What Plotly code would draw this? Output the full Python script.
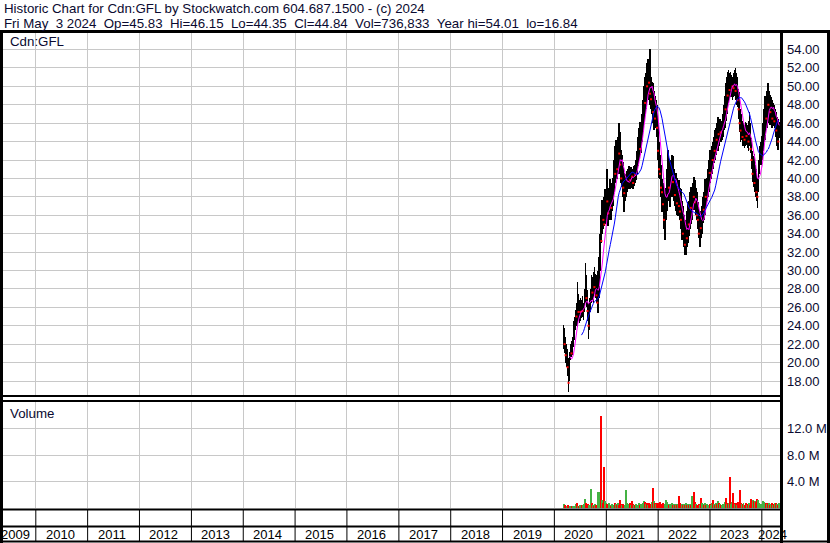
import pandas as pd
import plotly.graph_objects as go

# ---------------- data (weekly) ----------------
week_ending = pd.date_range("2020-03-06", "2024-05-03", freq="W-FRI")

high = [24.1, 23.8, 22.8, 22.0, 21.5, 20.5, 21.2, 22.0, 22.3, 22.8,
        24.5, 25.0, 25.7, 26.5, 28.7, 27.5, 26.8, 27.0, 26.8, 27.2,
        26.5, 28.0, 30.8, 29.5, 27.9, 26.5, 27.0, 28.0, 29.5, 29.3,
        29.8, 30.4, 29.6, 29.5, 30.0, 28.8, 31.5, 34.0, 36.0, 37.7,
        37.5, 38.0, 38.8, 38.5, 41.0, 38.5, 39.0, 39.9, 38.8, 39.5,
        40.0, 42.0, 43.5, 44.2, 43.0, 44.5, 46.0, 45.0, 43.1, 42.5,
        41.8, 40.6, 40.5, 40.0, 40.8, 41.0, 41.3, 41.0, 41.2, 41.0,
        40.8, 41.3, 41.5, 42.0, 43.0, 44.5, 45.5, 46.1, 46.0, 47.0,
        48.5, 50.0, 51.0, 51.5, 52.5, 53.0, 53.0, 54.01, 51.0, 50.5,
        50.4, 49.5, 49.0, 48.5, 48.0, 46.1, 44.0, 42.5, 41.5, 39.9,
        39.5, 38.8, 37.5, 39.0, 41.0, 43.1, 42.0, 41.0, 42.0, 42.5,
        42.4, 41.0, 40.6, 40.6, 40.0, 39.5, 39.8, 39.0, 38.8, 37.5,
        37.0, 36.0, 35.5, 35.0, 36.5, 37.4, 37.5, 38.5, 39.1, 38.8,
        39.5, 40.2, 39.8, 39.0, 38.5, 37.4, 36.5, 36.0, 36.5, 37.0,
        38.0, 38.5, 39.9, 39.5, 40.0, 41.0, 42.0, 43.1, 42.5, 43.5,
        44.0, 44.5, 45.3, 45.5, 46.0, 46.7, 46.5, 46.5, 46.2, 46.2,
        47.0, 48.0, 49.0, 50.4, 51.0, 51.6, 51.8, 51.5, 51.6, 51.2,
        51.0, 51.5, 51.8, 52.0, 51.5, 51.0, 49.7, 49.4, 47.5, 47.0,
        46.2, 46.0, 45.8, 46.1, 46.0, 45.8, 46.2, 47.2, 46.0, 44.4,
        43.0, 42.4, 42.6, 41.5, 41.0, 40.0, 42.0, 43.5, 44.0, 44.0,
        44.6, 46.0, 47.5, 48.9, 49.0, 49.5, 50.4, 49.5, 49.1, 48.8,
        48.5, 48.2, 48.0, 47.5, 47.2, 46.7, 46.5, 46.15]

low = [21.5, 21.0, 20.0, 19.5, 18.5, 16.84, 18.0, 20.3, 20.6, 20.8,
       21.7, 22.5, 23.5, 24.0, 23.9, 24.5, 24.3, 24.5, 24.8, 25.0,
       24.6, 25.5, 26.5, 26.0, 24.5, 22.6, 23.5, 25.5, 26.5, 26.8,
       26.5, 27.5, 27.0, 26.5, 26.0, 25.4, 27.0, 30.0, 33.0, 34.0,
       34.5, 34.8, 35.5, 35.0, 35.9, 34.8, 35.5, 36.0, 35.5, 36.5,
       37.0, 38.5, 39.5, 40.0, 39.9, 40.5, 41.5, 40.5, 39.5, 39.1,
       38.0, 36.3, 37.5, 38.0, 38.5, 38.8, 39.0, 38.8, 39.3, 39.0,
       38.8, 39.2, 39.5, 39.8, 40.5, 41.3, 42.0, 42.5, 42.8, 44.0,
       45.0, 46.1, 47.0, 47.5, 48.5, 48.5, 49.0, 48.0, 47.5, 47.0,
       46.0, 45.3, 45.5, 45.5, 44.5, 42.0, 40.0, 39.9, 38.0, 36.3,
       36.5, 34.5, 33.3, 35.5, 36.5, 38.5, 37.5, 36.9, 38.0, 38.5,
       38.0, 37.5, 37.0, 36.5, 36.0, 35.9, 36.0, 35.5, 34.5, 33.3,
       33.5, 32.5, 31.7, 31.7, 32.5, 33.0, 33.7, 34.5, 35.0, 35.5,
       36.6, 37.0, 36.6, 36.0, 35.5, 34.5, 33.5, 32.5, 33.5, 34.0,
       35.2, 35.5, 36.0, 37.0, 37.5, 38.0, 38.5, 39.5, 39.9, 40.5,
       41.0, 41.7, 42.0, 42.5, 43.0, 43.0, 43.5, 44.0, 44.0, 44.2,
       44.5, 45.3, 45.5, 46.2, 47.0, 48.0, 48.2, 48.5, 48.8, 48.8,
       48.5, 48.8, 49.0, 48.5, 48.0, 47.8, 46.5, 45.0, 44.0, 44.2,
       43.5, 43.5, 43.3, 43.5, 43.6, 43.3, 43.0, 43.5, 42.8, 41.0,
       39.6, 39.1, 38.5, 38.0, 37.5, 36.8, 38.5, 40.5, 41.5, 41.5,
       42.0, 43.0, 44.0, 44.2, 45.5, 45.5, 46.5, 46.0, 45.8, 46.0,
       45.5, 45.7, 45.7, 45.5, 44.5, 43.5, 43.1, 44.35]

close = [22.5, 22.0, 20.8, 21.5, 19.5, 17.8, 20.8, 21.2, 21.0, 22.4,
         23.9, 24.2, 25.2, 25.0, 26.3, 25.5, 25.6, 25.5, 26.0, 25.6,
         26.1, 27.5, 28.8, 27.0, 25.6, 24.0, 26.3, 27.2, 28.5, 27.6,
         29.0, 28.2, 28.4, 27.3, 26.5, 28.0, 30.5, 33.8, 33.2, 36.4,
         35.5, 35.0, 36.4, 37.8, 37.5, 36.2, 37.6, 38.6, 36.8, 38.2,
         39.3, 41.2, 40.5, 43.6, 41.0, 43.8, 42.7, 41.5, 40.0, 41.7,
         39.0, 38.4, 39.0, 39.8, 39.9, 40.2, 40.6, 39.8, 40.5, 40.2,
         39.5, 40.8, 40.4, 41.5, 42.4, 43.5, 44.8, 43.2, 45.6, 46.2,
         47.8, 49.0, 48.2, 50.6, 50.0, 51.8, 50.4, 49.2, 48.6, 49.5,
         47.2, 48.0, 46.5, 47.6, 45.5, 43.0, 41.0, 40.5, 39.0, 38.5,
         37.2, 35.5, 36.8, 38.5, 40.2, 41.5, 39.0, 40.3, 40.8, 41.0,
         39.6, 40.2, 38.2, 39.2, 37.3, 38.5, 37.0, 36.4, 35.5, 36.2,
         34.0, 35.0, 32.8, 34.2, 33.5, 36.5, 35.0, 37.6, 36.8, 38.2,
         39.0, 38.0, 37.4, 38.0, 36.0, 35.5, 34.0, 35.6, 34.6, 35.0,
         37.2, 36.6, 39.0, 38.0, 39.5, 40.0, 41.2, 40.6, 41.8, 42.6,
         42.0, 43.8, 43.0, 44.8, 44.2, 45.8, 44.8, 45.5, 45.0, 45.8,
         46.2, 47.0, 48.2, 47.5, 49.8, 49.0, 50.8, 49.6, 50.2, 50.9,
         50.0, 49.8, 50.6, 49.5, 50.4, 48.5, 47.5, 46.0, 45.2, 46.0,
         44.5, 45.4, 44.2, 45.5, 44.6, 45.0, 44.0, 46.0, 43.2, 42.0,
         40.5, 41.2, 39.5, 40.4, 38.5, 38.0, 41.5, 42.5, 42.8, 43.5,
         43.8, 45.5, 46.8, 47.8, 46.5, 48.5, 48.0, 48.6, 47.2, 47.8,
         46.5, 47.5, 46.2, 46.8, 45.2, 45.8, 44.0, 44.84]

volume_m = [0.6, 0.4, 0.3, 0.3, 0.4, 0.3, 0.3, 0.2, 0.3, 0.3,
            0.3, 0.3, 0.6, 0.7, 0.3, 0.3, 0.4, 0.3, 0.4, 0.5,
            0.4, 0.6, 1.3, 0.8, 0.5, 0.6, 0.5, 0.4, 2.9, 0.8,
            0.5, 0.3, 0.6, 0.4, 0.5, 2.4, 2.4, 1.0, 13.9, 1.2,
            0.8, 6.2, 1.0, 0.8, 0.6, 0.5, 0.8, 0.5, 0.3, 0.6,
            0.4, 0.5, 0.8, 0.6, 0.4, 0.7, 0.5, 1.2, 0.6, 0.4,
            0.6, 0.5, 0.4, 2.8, 0.8, 0.6, 0.4, 0.7, 0.5, 1.0,
            0.6, 0.4, 0.5, 0.6, 0.3, 0.5, 0.7, 0.4, 0.6, 0.5,
            0.8, 1.0, 0.9, 0.6, 0.7, 0.5, 0.8, 0.6, 0.5, 0.9,
            3.0, 1.0, 0.8, 0.6, 0.8, 0.6, 0.7, 0.9, 0.5, 0.6,
            0.7, 0.5, 0.6, 1.2, 0.9, 0.6, 0.5, 0.6, 0.4, 0.7,
            0.5, 0.6, 0.4, 0.6, 0.5, 0.6, 1.8, 0.7, 0.5, 0.6,
            0.4, 0.6, 0.5, 0.7, 0.5, 0.6, 0.4, 0.6, 0.5, 1.8,
            0.8, 2.4, 0.9, 0.6, 0.5, 0.4, 0.6, 0.5, 1.5, 0.8,
            0.6, 0.5, 0.7, 0.5, 0.6, 0.4, 0.5, 0.6, 0.4, 0.7,
            1.2, 0.6, 0.5, 0.7, 0.6, 1.05, 0.8, 0.6, 0.5, 0.4,
            0.6, 0.5, 0.9, 1.5, 0.6, 0.8, 0.7, 4.7, 0.6, 0.9,
            2.3, 0.8, 0.6, 0.7, 0.5, 0.9, 0.6, 2.7, 0.8, 0.6,
            0.6, 0.7, 0.5, 0.6, 0.8, 0.5, 0.6, 0.7, 0.5, 1.3,
            0.8, 1.2, 1.0, 1.1, 0.9, 1.4, 1.2, 0.7, 0.6, 0.5,
            0.6, 1.0, 0.9, 0.8, 0.7, 0.6, 0.8, 0.7, 0.5, 0.6,
            0.7, 0.5, 0.6, 0.7, 0.8, 0.6, 0.5, 0.74]

price_ticks = list(range(18, 56, 2))
volume_ticks = [4, 8, 12]
year_labels = list(range(2009, 2025))

title_line1 = "Historic Chart for Cdn:GFL by Stockwatch.com 604.687.1500 - (c) 2024"
title_line2 = ("Fri May\u00a0\u00a03 2024\u00a0\u00a0Op=45.83\u00a0\u00a0Hi=46.15\u00a0\u00a0Lo=44.35"
               "\u00a0\u00a0Cl=44.84\u00a0\u00a0Vol=736,833\u00a0\u00a0Year hi=54.01\u00a0\u00a0lo=16.84")

# ---------------- geometry (pixels) ----------------
W, H = 830, 543
PL, PR, PT, PB = 3, 780, 33, 541
PRICE_TOP, PRICE_BOT = 33, 395
VOL_TOP, VOL_BOT = 402, 508


def fy(py):
    return (PB - py) / (PB - PT)


def fx(px):
    return (px - PL) / (PR - PL)


FONT = "Liberation Sans, Arial, sans-serif"
TXT = "#0a0a30"
GRID = "#c8c8c8"

df = pd.DataFrame({"date": week_ending, "high": high, "low": low,
                   "close": close, "vol": volume_m})
df["rng"] = df["high"] - df["low"]
df["ma_fast"] = df["close"].rolling(7).mean()
df["ma_slow"] = df["close"].rolling(19).mean()
df["up"] = df["close"].diff().fillna(0) >= 0
down = df[~df["up"]]

week_ms = 7 * 24 * 3600 * 1000

fig = go.Figure()
fig.add_trace(go.Bar(x=df["date"], y=df["rng"], base=df["low"], width=week_ms * 0.8,
                     marker=dict(color="black", line=dict(width=0)),
                     xaxis="x", yaxis="y", hoverinfo="skip"))
fig.add_trace(go.Scatter(x=down["date"], y=down["close"], mode="markers",
                         marker=dict(symbol="square", size=2, color="#ff0000", line=dict(width=0)),
                         xaxis="x", yaxis="y", hoverinfo="skip"))
fig.add_trace(go.Scatter(x=df["date"], y=df["ma_fast"], mode="lines",
                         line=dict(color="#ff00ff", width=1), xaxis="x", yaxis="y", hoverinfo="skip"))
fig.add_trace(go.Scatter(x=df["date"], y=df["ma_slow"], mode="lines",
                         line=dict(color="#0000ff", width=1), xaxis="x", yaxis="y", hoverinfo="skip"))
fig.add_trace(go.Bar(x=df["date"], y=df["vol"], width=week_ms,
                     marker=dict(color=["#44b244" if u else "#ff0000" for u in df["up"]],
                                 line=dict(width=0)),
                     xaxis="x2", yaxis="y2", hoverinfo="skip"))

x_range = ["2009-05-15", "2024-05-08"]
px_per_unit = 9.208
p_lo = 18 - (PRICE_BOT - 381) / px_per_unit
p_hi = p_lo + (PRICE_BOT - PRICE_TOP) / px_per_unit
v_hi = (VOL_BOT - VOL_TOP) / 6.6

xcommon = dict(type="date", range=x_range, showgrid=True, gridcolor=GRID, gridwidth=1,
               dtick="M12", tick0="2010-01-01", showticklabels=False, ticks="",
               showline=False, zeroline=False, fixedrange=True)
fig.update_layout(
    width=W, height=H,
    margin=dict(l=PL, r=W - PR, t=PT, b=H - PB, pad=0),
    paper_bgcolor="white", plot_bgcolor="white",
    showlegend=False, bargap=0,
    xaxis=dict(domain=[0, 1], anchor="y", **xcommon),
    xaxis2=dict(domain=[0, 1], anchor="y2", matches="x", **xcommon),
    yaxis=dict(domain=[fy(PRICE_BOT), fy(PRICE_TOP)], range=[p_lo, p_hi], side="right",
               anchor="x", tickvals=price_ticks, ticktext=[f"{v:.2f}" for v in price_ticks],
               showgrid=True, gridcolor=GRID, ticks="", ticklabelstandoff=6,
               tickfont=dict(family=FONT, size=13, color=TXT),
               showline=False, zeroline=False, fixedrange=True),
    yaxis2=dict(domain=[fy(VOL_BOT), fy(VOL_TOP)], range=[0, v_hi], side="right",
                anchor="x2", tickvals=volume_ticks, ticktext=[f"{v:.1f} M" for v in volume_ticks],
                showgrid=True, gridcolor=GRID, ticks="", ticklabelstandoff=6,
                tickfont=dict(family=FONT, size=13, color=TXT),
                showline=False, zeroline=False, fixedrange=True),
)

shapes = []


def hline(py, w, x0=0, x1=W):
    shapes.append(dict(type="line", xref="paper", yref="paper", x0=fx(x0), x1=fx(x1),
                       y0=fy(py), y1=fy(py), line=dict(color="black", width=w)))


def vline_px(px, w, y0, y1):
    shapes.append(dict(type="line", xref="paper", yref="paper", x0=fx(px), x1=fx(px),
                       y0=fy(y0), y1=fy(y1), line=dict(color="black", width=w)))


hline(31.5, 3)
hline(396, 2, 0, 781)
hline(401, 2, 0, 781)
hline(509.5, 2, 0, 781)
hline(526.5, 2, 0, 781)
hline(541.5, 2)
vline_px(1.5, 3, 31, 543)
vline_px(781.5, 3, 31, 543)
vline_px(828.5, 3, 31, 543)

# year separators in the two bottom rows
for yr in year_labels[1:]:
    shapes.append(dict(type="line", xref="x", yref="paper", x0=f"{yr}-01-01", x1=f"{yr}-01-01",
                       y0=fy(541), y1=fy(509), line=dict(color="black", width=1)))

annotations = [
    dict(text=title_line1, xref="paper", yref="paper", x=fx(2), y=fy(8), xanchor="left",
         yanchor="middle", showarrow=False, font=dict(family=FONT, size=13.3, color=TXT)),
    dict(text=title_line2, xref="paper", yref="paper", x=fx(2), y=fy(23), xanchor="left",
         yanchor="middle", showarrow=False, font=dict(family=FONT, size=13.3, color=TXT)),
    dict(text="Cdn:GFL", xref="paper", yref="paper", x=fx(8), y=fy(42), xanchor="left",
         yanchor="middle", showarrow=False, font=dict(family=FONT, size=13.3, color=TXT)),
    dict(text="Volume", xref="paper", yref="paper", x=fx(8), y=fy(413), xanchor="left",
         yanchor="middle", showarrow=False, font=dict(family=FONT, size=13.3, color=TXT)),
]
for yr in year_labels:
    if yr == 2009:
        a = dict(xref="paper", x=fx(-1), xanchor="left")
    elif yr == 2024:
        a = dict(xref="x", x=f"{yr}-01-01", xanchor="left", xshift=-6)
    else:
        a = dict(xref="x", x=f"{yr}-01-01", xanchor="left", xshift=8)
    a.update(text=str(yr), yref="paper", y=fy(534.5), yanchor="middle", showarrow=False,
             font=dict(family=FONT, size=13, color="black"))
    annotations.append(a)

fig.update_layout(shapes=shapes, annotations=annotations)
fig.write_html("out.html", config={"displayModeBar": False},
               post_script="document.body.style.margin='0';")
